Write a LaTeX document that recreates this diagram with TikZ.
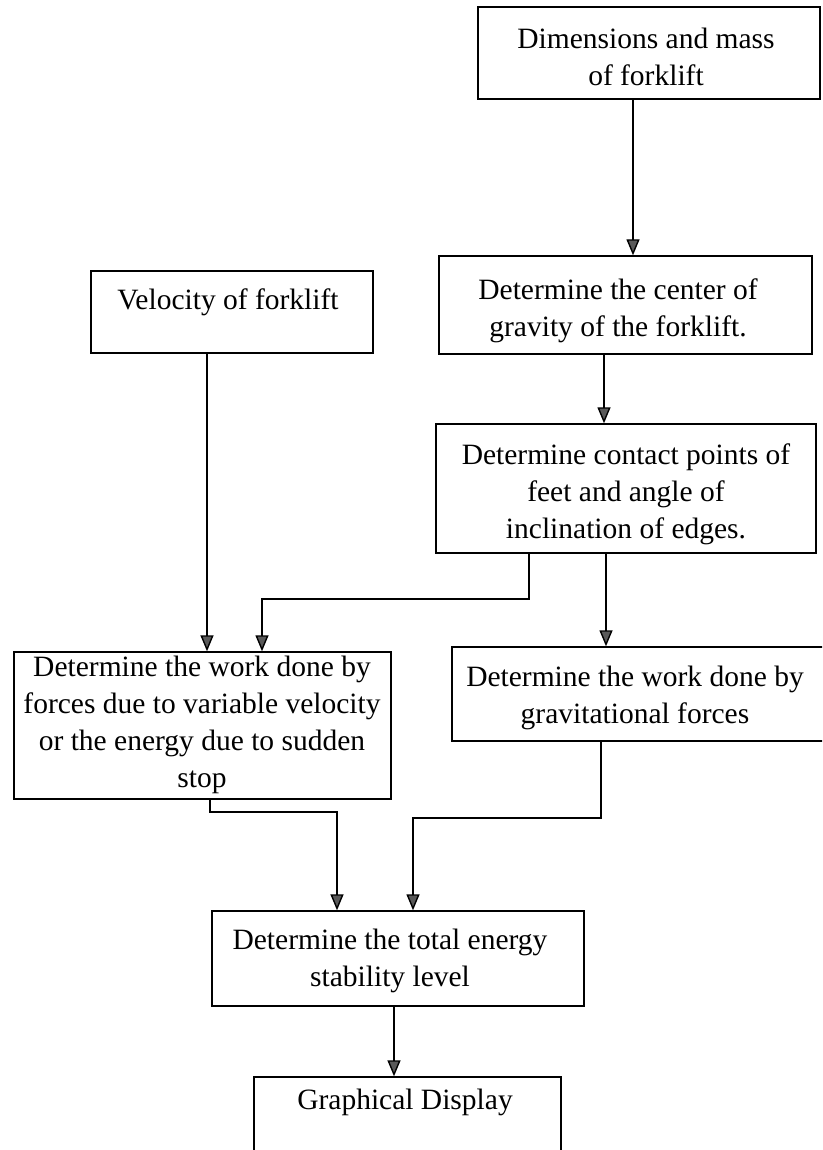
\documentclass[tikz,border=0pt]{standalone}
\usepackage{fontspec}
\setmainfont{Liberation Serif}
\usetikzlibrary{arrows.meta,fit}
\begin{document}
\begin{tikzpicture}[x=1pt,y=-1pt,
  box/.style={draw, line width=1.4pt, inner sep=0pt},
  txt/.style={font=\fontsize{29.5}{37}\selectfont, align=center, inner sep=0pt},
  arr/.style={line width=1.4pt, -{Triangle[width=13pt,length=16pt,fill=black!65]}},
  ln/.style={line width=1.4pt}]
\useasboundingbox (0,0) rectangle (822,1150);
\clip (0,0) rectangle (822,1150);
\fill[white] (0,0) rectangle (822,1150);
% boxes
\node[box, fit={(478,7) (820,99)}] (b1) {};
\node[box, fit={(91,271) (373,353)}] (vel) {};
\node[box, fit={(439,256) (812,354)}] (b3) {};
\node[box, fit={(436,424) (816,553)}] (b4) {};
\node[box, fit={(14,652) (391,799)}] (b5) {};
\node[box, fit={(452,647) (830,741)}] (b6) {};
\node[box, fit={(212,911) (584,1006)}] (b7) {};
\node[box, fit={(254,1077) (561,1160)}] (b8) {};
% texts
\node[txt] (t1) at (646,57) {Dimensions and mass\\of forklift};
\node[txt] (tv) at (228,302) {Velocity of forklift};
\node[txt] (t3) at (618,311) {Determine the center of\\gravity of the forklift.};
\node[txt] (t4) at (626,494) {Determine contact points of\\feet and angle of\\inclination of edges.};
\node[txt] (t5) at (202,725) {Determine the work done by\\forces due to variable velocity\\or the energy due to sudden\\stop};
\node[txt] (t6) at (635,698) {Determine the work done by\\gravitational forces};
\node[txt] (t7) at (390,961) {Determine the total energy\\stability level};
\node[txt] (t8) at (405,1102) {Graphical Display};
% connectors
\draw[arr] (b1.south -| 633,0) -- (b3.north -| 633,0);
\draw[arr] (vel.south -| 207,0) -- (b5.north -| 207,0);
\draw[arr] (b3.south -| 604,0) -- (b4.north -| 604,0);
\coordinate (c4a) at (529,599);
\coordinate (c4b) at (262,599);
\draw[arr] (b4.south -| c4a) -- (c4a) -- (c4b) -- (b5.north -| c4b);
\draw[arr] (b4.south -| 606,0) -- (b6.north -| 606,0);
\coordinate (c5a) at (210,812);
\coordinate (c5b) at (337,812);
\draw[arr] (b5.south -| c5a) -- (c5a) -- (c5b) -- (b7.north -| c5b);
\coordinate (c6a) at (601,818);
\coordinate (c6b) at (413,818);
\draw[arr] (b6.south -| c6a) -- (c6a) -- (c6b) -- (b7.north -| c6b);
\draw[arr] (b7.south -| 394,0) -- (b8.north -| 394,0);
\end{tikzpicture}
\end{document}
